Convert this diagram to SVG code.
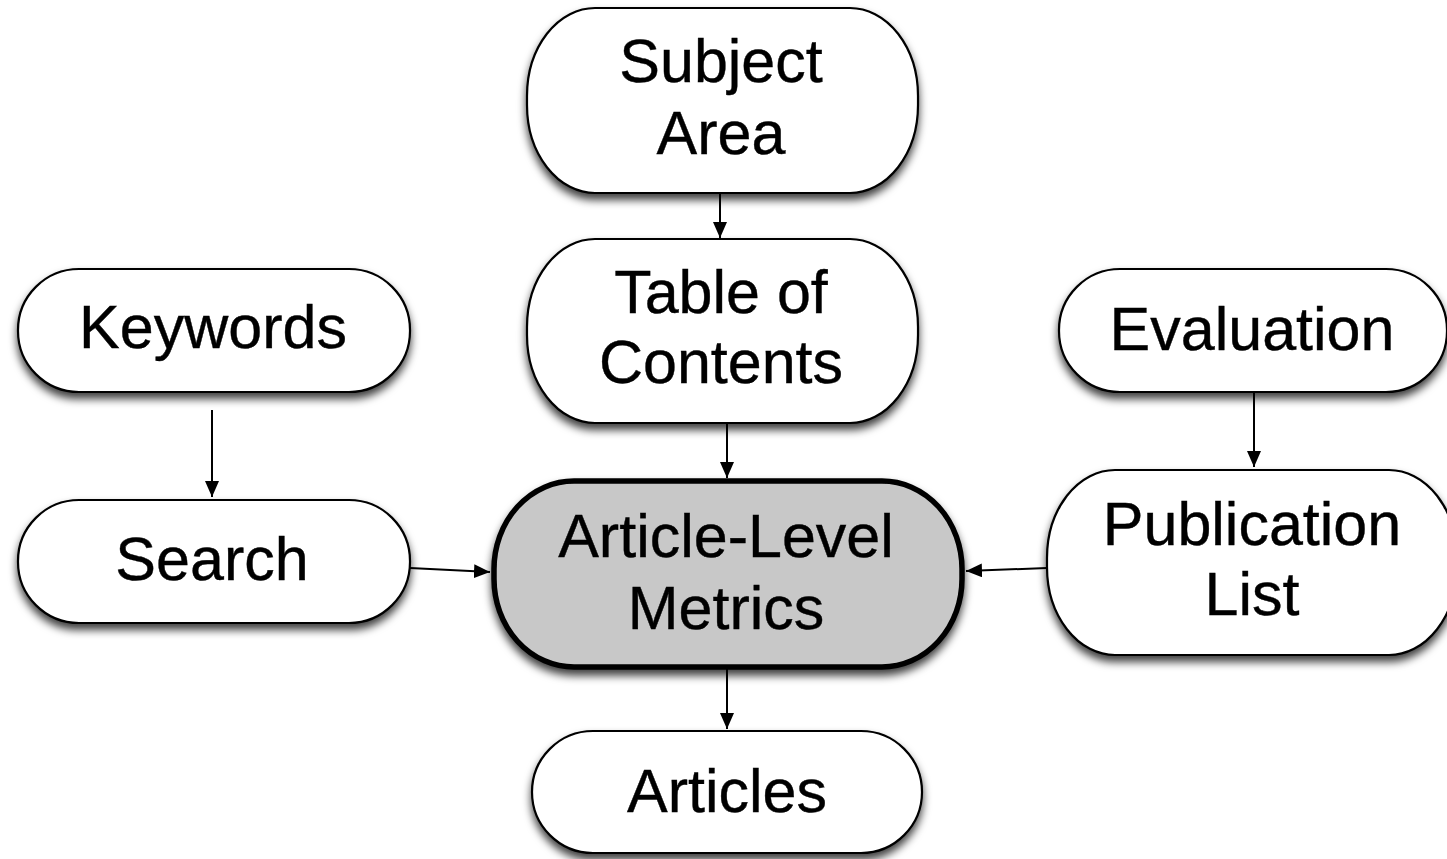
<svg xmlns="http://www.w3.org/2000/svg" width="1447" height="859" viewBox="0 0 1447 859">
<style>
.box{fill:#ffffff;stroke:#000;stroke-width:2.2;filter:url(#sh)}
.main{fill:#c8c8c8;stroke:#000;stroke-width:5.5;filter:url(#sh)}
.t{font-family:"Liberation Sans",Arial,sans-serif;font-size:61px;fill:#000;text-anchor:middle;stroke:#000;stroke-width:0.4}
.c{stroke:#000;stroke-width:2;fill:none;marker-end:url(#ah)}
</style>
<defs>
<filter id="sh" x="-10%" y="-10%" width="120%" height="130%">
<feDropShadow dx="0" dy="6" stdDeviation="4" flood-color="#000" flood-opacity="0.75"/>
</filter>
<marker id="ah" markerWidth="16" markerHeight="14" refX="16" refY="7" orient="auto" markerUnits="userSpaceOnUse">
<path d="M0,0 L16,7 L0,14 Z" fill="#000"/>
</marker>
</defs>
<rect width="1447" height="859" fill="#ffffff"/>
<g id="connectors">
<line class="c" x1="720" y1="193" x2="720" y2="238"/>
<line class="c" x1="727" y1="423" x2="727" y2="478"/>
<line class="c" x1="212" y1="410" x2="212" y2="497"/>
<line class="c" x1="410" y1="568" x2="490" y2="572"/>
<line class="c" x1="1047" y1="568" x2="966" y2="571"/>
<line class="c" x1="1254" y1="393" x2="1254" y2="467"/>
<line class="c" x1="727" y1="668" x2="727" y2="729"/>
</g>
<g id="subject-area">
<rect class="box" x="527" y="8" width="391" height="185" rx="68" ry="88"/>
<text class="t" x="721" y="82">Subject</text>
<text class="t" x="721" y="154">Area</text>
</g>
<g id="table-of-contents">
<rect class="box" x="527" y="239" width="391" height="184" rx="68" ry="88"/>
<text class="t" x="721" y="313">Table of</text>
<text class="t" x="721" y="383">Contents</text>
</g>
<g id="keywords">
<rect class="box" x="18" y="269" width="392" height="123" rx="61" ry="61"/>
<text class="t" x="213" y="348">Keywords</text>
</g>
<g id="search">
<rect class="box" x="18" y="500" width="392" height="123" rx="61" ry="61"/>
<text class="t" x="212" y="580">Search</text>
</g>
<g id="article-level-metrics">
<rect class="main" x="494" y="481" width="468" height="186" rx="80" ry="88"/>
<text class="t" x="726" y="557">Article-Level</text>
<text class="t" x="726" y="629">Metrics</text>
</g>
<g id="articles">
<rect class="box" x="532" y="731" width="390" height="122" rx="61" ry="61"/>
<text class="t" x="727" y="812">Articles</text>
</g>
<g id="evaluation">
<rect class="box" x="1059" y="269" width="388" height="123" rx="61" ry="61"/>
<text class="t" x="1252" y="350">Evaluation</text>
</g>
<g id="publication-list">
<rect class="box" x="1047" y="470" width="410" height="185" rx="68" ry="88"/>
<text class="t" x="1252" y="545">Publication</text>
<text class="t" x="1252" y="615">List</text>
</g>
</svg>
